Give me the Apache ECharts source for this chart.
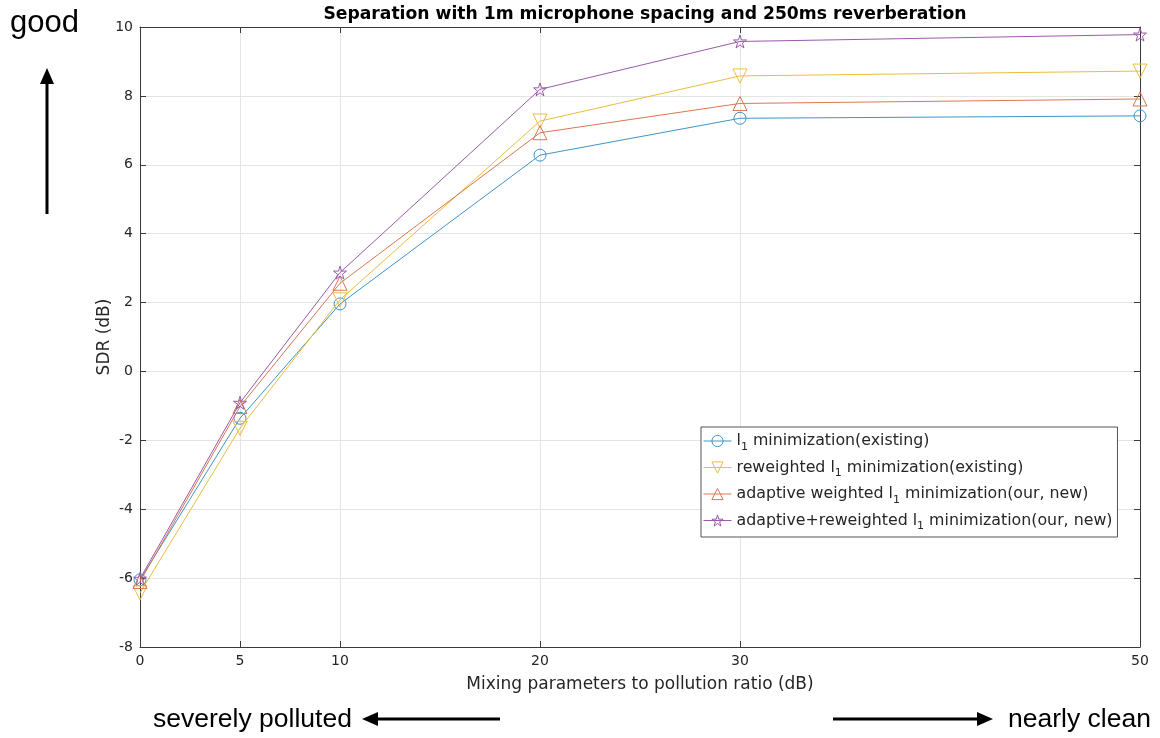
<!DOCTYPE html>
<html>
<head>
<meta charset="utf-8">
<script src="https://cdn.jsdelivr.net/npm/echarts@6/dist/echarts.min.js"></script>
<style>
  html, body { margin: 0; padding: 0; background: #fff; }
  #chart { width: 1160px; height: 738px; }
</style>
</head>
<body>
<div id="chart"></div>
<script>
// Mixing-parameter-to-pollution ratios (dB) on the x axis
const ratios = [0, 5, 10, 20, 30, 50];
const xTicks = [0, 5, 10, 20, 30, 50];

// SDR (dB) for each method
const l1Min = [-6.05, -1.36, 1.96, 6.28, 7.35, 7.42];
const reweightedL1 = [-6.43, -1.65, 2.08, 7.27, 8.58, 8.72];
const adaptiveL1 = [-6.1, -1.02, 2.56, 6.93, 7.78, 7.91];
const adaptiveReweightedL1 = [-6.02, -0.91, 2.87, 8.19, 9.58, 9.78];

// Legend texts (l with a subscript 1)
const seriesIds = ['l1', 'rw', 'ad', 'adrw'];
const legendLabels = {
  l1: '{t|l}{sub|1}{t| minimization(existing)}',
  rw: '{t|reweighted l}{sub|1}{t| minimization(existing)}',
  ad: '{t|adaptive weighted l}{sub|1}{t| minimization(our, new)}',
  adrw: '{t|adaptive+reweighted l}{sub|1}{t| minimization(our, new)}'
};

const colors = ['#3f95c6', '#ebbd3c', '#db7652', '#9a5aa8'];
const clear = 'rgba(255,255,255,0)';
const starPath = 'path://M50,0 L61,35 L98,35 L68,57 L79,91 L50,70 L21,91 L32,57 L2,35 L39,35 Z';

const axisColor = '#3a3a3a';
const gridColor = '#e4e4e4';
const tickFont = 'DejaVu Sans';

function makeSeries(idx, values, symbol, size, rotate) {
  return {
    name: seriesIds[idx],
    type: 'line',
    data: ratios.map((x, i) => [x, values[i]]),
    symbol: symbol,
    symbolSize: size,
    symbolRotate: rotate || 0,
    showAllSymbol: true,
    lineStyle: { color: colors[idx], width: 1 },
    itemStyle: { color: clear, borderColor: colors[idx], borderWidth: 1 },
    emphasis: { disabled: true },
    animation: false,
    z: 3 + idx
  };
}

const chart = echarts.init(document.getElementById('chart'));

chart.setOption({
  backgroundColor: '#ffffff',
  animation: false,
  title: {
    text: 'Separation with 1m microphone spacing and 250ms reverberation',
    left: 640,
    textAlign: 'center',
    top: 1,
    textStyle: { fontFamily: tickFont, fontWeight: 'bold', fontSize: 17.2, color: '#000' }
  },
  grid: { left: 140, right: 20, top: 27, bottom: 91, containLabel: false },
  legend: {
    orient: 'vertical',
    left: 701,
    top: 427,
    itemWidth: 28,
    itemHeight: 14,
    itemGap: 7,
    padding: [6, 5, 5, 2],
    borderColor: '#555',
    borderWidth: 1,
    borderRadius: 0,
    backgroundColor: '#fff',
    formatter: function (name) { return legendLabels[name]; },
    textStyle: {
      fontFamily: tickFont,
      fontSize: 15.8,
      color: '#262626',
      rich: {
        t: { fontFamily: tickFont, fontSize: 15.8, color: '#262626' },
        sub: { fontFamily: tickFont, fontSize: 11, color: '#262626', padding: [12, 0, 0, 0] }
      }
    },
    data: seriesIds.map((id, i) => ({
      name: id,
      itemStyle: { color: clear, borderColor: colors[i], borderWidth: 1 },
      lineStyle: { color: colors[i], width: 1 }
    }))
  },
  xAxis: [
    {
      type: 'value',
      min: 0,
      max: 50,
      name: 'Mixing parameters to pollution ratio (dB)',
      nameLocation: 'middle',
      nameGap: 29,
      nameMoveOverlap: false,
      nameTextStyle: { fontFamily: tickFont, fontSize: 17, color: '#262626' },
      axisLine: { show: true, onZero: false, lineStyle: { color: axisColor, width: 1 } },
      axisTick: { show: true, inside: true, length: 6, customValues: xTicks, lineStyle: { color: axisColor } },
      axisLabel: { customValues: xTicks, fontFamily: tickFont, fontSize: 14, color: '#262626', margin: 7 },
      splitLine: { show: true, lineStyle: { color: gridColor, width: 1 } }
    },
    {
      type: 'value',
      position: 'top',
      min: 0,
      max: 50,
      axisLine: { show: true, onZero: false, lineStyle: { color: axisColor, width: 1 } },
      axisTick: { show: true, inside: true, length: 6, customValues: xTicks, lineStyle: { color: axisColor } },
      axisLabel: { show: false },
      splitLine: { show: false }
    }
  ],
  yAxis: [
    {
      type: 'value',
      min: -8,
      max: 10,
      interval: 2,
      name: 'SDR (dB)',
      nameLocation: 'middle',
      nameGap: 27,
      nameMoveOverlap: false,
      nameTextStyle: { fontFamily: tickFont, fontSize: 17, color: '#262626' },
      axisLine: { show: true, onZero: false, lineStyle: { color: axisColor, width: 1 } },
      axisTick: { show: true, inside: true, length: 6, lineStyle: { color: axisColor } },
      axisLabel: { fontFamily: tickFont, fontSize: 14, color: '#262626', margin: 7 },
      splitLine: { show: true, lineStyle: { color: gridColor, width: 1 } }
    },
    {
      type: 'value',
      position: 'right',
      min: -8,
      max: 10,
      interval: 2,
      axisLine: { show: true, onZero: false, lineStyle: { color: axisColor, width: 1 } },
      axisTick: { show: true, inside: true, length: 6, lineStyle: { color: axisColor } },
      axisLabel: { show: false },
      splitLine: { show: false }
    }
  ],
  series: [
    makeSeries(0, l1Min, 'circle', 12),
    makeSeries(1, reweightedL1, 'triangle', 14, 180),
    makeSeries(2, adaptiveL1, 'triangle', 14),
    makeSeries(3, adaptiveReweightedL1, starPath, 13)
  ],
  graphic: [
    // "good" with an upward arrow
    { type: 'text', left: 10, top: 8, style: { text: 'good', fontFamily: 'Liberation Sans', fontSize: 31, fill: '#000' } },
    { type: 'line', shape: { x1: 47, y1: 214, x2: 47, y2: 80 }, style: { stroke: '#000', lineWidth: 3 } },
    { type: 'polygon', shape: { points: [[47, 68], [40, 84], [54, 84]] }, style: { fill: '#000' } },
    // "severely polluted" with a leftward arrow
    { type: 'text', left: 153, top: 706, style: { text: 'severely polluted', fontFamily: 'Liberation Sans', fontSize: 26.5, fill: '#000' } },
    { type: 'line', shape: { x1: 500, y1: 719, x2: 375, y2: 719 }, style: { stroke: '#000', lineWidth: 3 } },
    { type: 'polygon', shape: { points: [[362, 719], [378, 712], [378, 726]] }, style: { fill: '#000' } },
    // "nearly clean" with a rightward arrow
    { type: 'line', shape: { x1: 833, y1: 719, x2: 980, y2: 719 }, style: { stroke: '#000', lineWidth: 3 } },
    { type: 'polygon', shape: { points: [[993, 719], [977, 712], [977, 726]] }, style: { fill: '#000' } },
    { type: 'text', left: 1008, top: 706, style: { text: 'nearly clean', fontFamily: 'Liberation Sans', fontSize: 26.5, fill: '#000' } }
  ]
});
</script>
</body>
</html>
